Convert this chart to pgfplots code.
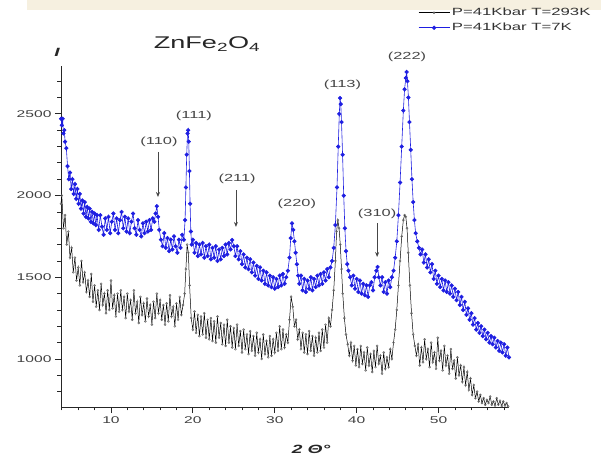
\documentclass[border=0pt]{standalone}
\usepackage{fontspec}
\setmainfont{Liberation Sans}[FakeStretch=1.6]
\usepackage{pgfplots}
\pgfplotsset{compat=1.18}
\usetikzlibrary{arrows.meta}
\definecolor{bluedata}{RGB}{30,30,225}
\definecolor{beige}{RGB}{246,240,224}
\definecolor{annot}{RGB}{70,70,70}
\pgfplotstableread{
x y
3.90 2470
4.00 2430
4.10 2470
4.20 2380
4.30 2400
4.40 2330
4.55 2290
4.70 2180
4.85 2100
5.00 2140
5.15 2040
5.30 2100
5.45 2010
5.60 2070
5.75 1980
5.90 2040
6.05 1950
6.20 2010
6.35 1920
6.50 1970
6.65 1890
6.80 1960
6.95 1870
7.10 1930
7.25 1860
7.40 1920
7.55 1840
7.70 1900
7.85 1830
8.00 1890
8.15 1820
8.30 1880
8.50 1790
8.70 1880
8.90 1810
9.10 1760
9.30 1860
9.50 1790
9.70 1870
9.90 1770
10.10 1840
10.30 1890
10.50 1790
10.70 1860
10.90 1770
11.10 1850
11.30 1900
11.50 1800
11.70 1870
11.90 1780
12.10 1860
12.30 1770
12.50 1840
12.70 1890
12.90 1800
13.10 1760
13.30 1850
13.50 1790
13.70 1750
13.90 1830
14.10 1770
14.30 1840
14.50 1780
14.70 1850
14.90 1790
15.10 1860
15.30 1840
15.45 1890
15.60 1935
15.75 1870
15.90 1790
16.10 1730
16.30 1690
16.50 1770
16.70 1680
16.90 1740
17.10 1660
17.30 1730
17.50 1670
17.70 1750
17.90 1690
18.10 1650
18.30 1730
18.50 1680
18.70 1760
18.90 1730
19.05 1850
19.15 2050
19.25 2250
19.35 2380
19.42 2400
19.50 2330
19.58 2150
19.66 1950
19.75 1780
19.85 1700
20.00 1730
20.20 1650
20.40 1710
20.60 1630
20.80 1700
21.00 1640
21.20 1710
21.40 1620
21.60 1690
21.80 1630
22.00 1700
22.20 1610
22.40 1680
22.60 1620
22.80 1690
23.00 1600
23.20 1670
23.40 1610
23.60 1680
23.80 1630
24.00 1700
24.20 1640
24.40 1710
24.60 1670
24.80 1728
25.00 1690
25.20 1630
25.40 1690
25.60 1610
25.80 1660
26.00 1580
26.20 1640
26.40 1560
26.60 1620
26.80 1550
27.00 1610
27.20 1530
27.40 1590
27.60 1510
27.80 1570
28.00 1490
28.20 1560
28.40 1480
28.60 1540
28.80 1460
29.00 1530
29.20 1450
29.40 1510
29.60 1440
29.80 1500
30.00 1430
30.20 1490
30.40 1440
30.60 1510
30.80 1450
31.00 1520
31.20 1460
31.40 1500
31.60 1540
31.80 1620
31.95 1740
32.10 1830
32.25 1790
32.40 1720
32.55 1650
32.70 1580
32.85 1510
33.00 1460
33.20 1510
33.40 1420
33.60 1490
33.80 1410
34.00 1480
34.20 1430
34.40 1500
34.60 1420
34.80 1490
35.00 1440
35.20 1510
35.40 1450
35.60 1520
35.80 1460
36.00 1530
36.20 1480
36.40 1550
36.60 1500
36.80 1560
37.00 1600
37.20 1680
37.40 1820
37.60 2050
37.75 2300
37.88 2500
37.97 2597
38.06 2560
38.15 2450
38.28 2250
38.42 2000
38.56 1800
38.70 1660
38.85 1580
39.00 1540
39.20 1500
39.40 1450
39.60 1510
39.80 1430
40.00 1490
40.20 1410
40.40 1480
40.60 1400
40.80 1460
41.00 1390
41.20 1450
41.40 1380
41.60 1450
41.80 1470
42.00 1420
42.20 1500
42.40 1540
42.55 1563
42.70 1500
42.90 1450
43.10 1500
43.30 1410
43.50 1470
43.70 1400
43.90 1480
44.10 1440
44.30 1500
44.50 1540
44.70 1620
44.90 1720
45.10 1880
45.30 2080
45.50 2300
45.70 2520
45.85 2650
46.00 2720
46.10 2756
46.20 2700
46.32 2600
46.45 2450
46.60 2280
46.75 2100
46.90 1960
47.05 1850
47.20 1770
47.40 1720
47.60 1680
47.80 1640
48.00 1670
48.20 1590
48.40 1640
48.60 1560
48.80 1610
49.00 1530
49.20 1580
49.40 1490
49.60 1540
49.80 1460
50.00 1510
50.20 1440
50.40 1490
50.60 1420
50.80 1480
51.00 1410
51.20 1470
51.40 1400
51.60 1450
51.80 1380
52.00 1430
52.20 1360
52.40 1410
52.60 1330
52.80 1380
53.00 1300
53.20 1350
53.40 1270
53.60 1310
53.80 1240
54.00 1280
54.20 1210
54.40 1250
54.60 1180
54.80 1220
55.00 1160
55.20 1200
55.40 1140
55.60 1180
55.80 1120
56.00 1160
56.20 1100
56.40 1140
56.60 1090
56.80 1130
57.00 1070
57.20 1110
57.40 1050
57.60 1100
57.80 1040
58.00 1090
58.20 1020
58.40 1070
58.60 1010
}\bluedata
\pgfplotstableread{
x y
3.90 1950
4.00 2000
4.20 1800
4.40 1880
4.60 1700
4.80 1780
5.00 1620
5.20 1680
5.40 1530
5.60 1620
5.80 1480
6.00 1560
6.20 1450
6.40 1600
6.60 1470
6.80 1530
7.00 1410
7.20 1480
7.40 1380
7.60 1520
7.80 1350
8.00 1450
8.20 1320
8.40 1420
8.60 1300
8.80 1460
9.00 1330
9.20 1400
9.40 1280
9.60 1420
9.80 1300
10.00 1480
10.20 1310
10.40 1390
10.60 1260
10.80 1400
11.00 1290
11.20 1420
11.40 1300
11.60 1380
11.80 1250
12.00 1400
12.20 1290
12.40 1360
12.60 1240
12.80 1420
13.00 1280
13.20 1350
13.40 1220
13.60 1380
13.80 1270
14.00 1340
14.20 1230
14.40 1370
14.60 1260
14.80 1330
15.00 1210
15.20 1350
15.40 1250
15.60 1400
15.80 1280
16.00 1360
16.20 1240
16.40 1330
16.60 1210
16.80 1340
17.00 1230
17.20 1390
17.40 1260
17.60 1320
17.80 1200
18.00 1340
18.20 1240
18.40 1380
18.60 1270
18.80 1330
19.00 1400
19.15 1550
19.30 1700
19.45 1650
19.60 1450
19.80 1250
20.00 1180
20.20 1290
20.40 1160
20.60 1270
20.80 1140
21.00 1260
21.20 1150
21.40 1280
21.60 1130
21.80 1240
22.00 1120
22.20 1250
22.40 1110
22.60 1230
22.80 1100
23.00 1260
23.20 1130
23.40 1220
23.60 1090
23.80 1210
24.00 1080
24.20 1240
24.40 1100
24.60 1200
24.80 1070
25.00 1190
25.20 1060
25.40 1210
25.60 1080
25.80 1170
26.00 1040
26.20 1180
26.40 1060
26.60 1150
26.80 1030
27.00 1170
27.20 1050
27.40 1140
27.60 1020
27.80 1160
28.00 1040
28.20 1120
28.40 1000
28.60 1150
28.80 1030
29.00 1110
29.20 1010
29.40 1140
29.60 1020
29.80 1120
30.00 1040
30.20 1160
30.40 1050
30.60 1200
30.80 1060
31.00 1180
31.20 1070
31.40 1150
31.60 1100
31.80 1240
32.00 1380
32.20 1320
32.40 1200
32.60 1240
32.80 1120
33.00 1180
33.20 1060
33.40 1160
33.60 1040
33.80 1150
34.00 1030
34.20 1170
34.40 1050
34.60 1140
34.80 1020
35.00 1130
35.20 1040
35.40 1160
35.60 1050
35.80 1180
36.00 1070
36.20 1210
36.40 1100
36.60 1250
36.80 1200
37.00 1300
37.20 1420
37.40 1600
37.55 1780
37.70 1850
37.85 1800
38.00 1700
38.15 1550
38.30 1400
38.50 1250
38.70 1150
38.90 1090
39.10 1020
39.30 1100
39.50 990
39.70 1080
39.90 960
40.10 1060
40.30 950
40.50 1080
40.70 970
40.90 1040
41.10 930
41.30 1070
41.50 960
41.70 1030
41.90 920
42.10 1050
42.30 950
42.50 1080
42.70 970
42.90 1020
43.10 910
43.30 1040
43.50 940
43.70 1010
43.90 950
44.10 1060
44.30 1000
44.50 1100
44.70 1180
44.90 1300
45.10 1450
45.30 1600
45.50 1750
45.70 1850
45.85 1880
46.00 1870
46.15 1800
46.30 1650
46.50 1450
46.70 1280
46.90 1150
47.10 1080
47.30 1020
47.50 1090
47.70 960
47.90 1070
48.10 980
48.30 1120
48.50 1000
48.70 1060
48.90 950
49.10 1100
49.30 980
49.50 1040
49.70 940
49.90 1130
50.10 990
50.30 1050
50.50 930
50.70 1080
50.90 960
51.10 1020
51.30 910
51.50 1060
51.70 940
51.90 990
52.10 880
52.30 1010
52.50 900
52.70 960
52.90 860
53.10 950
53.30 840
53.50 920
53.70 810
53.90 880
54.10 780
54.30 840
54.50 760
54.70 800
54.90 740
55.10 780
55.30 730
55.50 760
55.70 720
55.90 750
56.10 730
56.30 770
56.50 720
56.70 740
56.90 715
57.10 760
57.30 720
57.50 745
57.70 712
57.90 740
58.10 715
58.30 730
58.50 710
}\blackdata
\begin{document}
\begin{tikzpicture}
\path[use as bounding box] (0,0) rectangle (601bp,456bp);
\fill[beige] (27bp,446bp) rectangle (601bp,456bp);
\begin{axis}[
  at={(61bp,49bp)}, anchor=south west,
  width=448bp, height=341bp, scale only axis,
  xmin=3.9, xmax=58.6, ymin=706, ymax=2793,
  axis x line*=bottom, axis y line*=left,
  axis line style={-, line width=0.9pt, black!85},
  xtick={10,20,30,40,50}, ytick={1000,1500,2000,2500},
  minor xtick={4,6,...,58}, minor ytick={800,900,...,2700},
  tick align=outside, major tick length=6bp, minor tick length=3.5bp,
  every tick/.style={line width=0.8pt, black!85},
  tick label style={font=\fontsize{9.8}{11}\selectfont, text=black!75},
  /pgf/number format/assume math mode=true,
  /pgf/number format/1000 sep={},
  clip=false,
  legend style={at={(axis description cs:0.797,1.176)}, anchor=north west, draw=none, fill=none,
    font=\fontsize{10.5}{12}\selectfont, row sep=2bp, inner sep=0pt, text=black!80},
  legend cell align=left,
  reverse legend,
  legend image code/.code={\draw[mark repeat=2,mark phase=2,#1] plot coordinates {(0bp,0bp) (15.5bp,0bp) (31bp,0bp)};},
]
\addplot[bluedata, line width=0.6pt, mark=*, mark size=1.8pt, mark options={fill=bluedata, draw=bluedata}] table {\bluedata};
\addlegendentry{P=41Kbar T=7K}
\addplot[black, line width=0.5pt, mark=o, mark size=1pt, mark options={draw=black!60}] table {\blackdata};
\addlegendentry{P=41Kbar T=293K}

\begin{scope}[every node/.style={font=\fontsize{10.3}{12}\selectfont, text=annot}]
\node at (axis cs:15.86,2328) {(110)};
\node at (axis cs:20.13,2487) {(111)};
\node at (axis cs:25.4,2101) {(211)};
\node at (axis cs:32.7,1949) {(220)};
\node at (axis cs:38.27,2677) {(113)};
\node at (axis cs:42.5,1887) {(310)};
\node at (axis cs:46.14,2848) {(222)};
\end{scope}
\draw[annot, line width=0.8pt, -{Stealth[length=5bp,width=4bp]}] (axis cs:15.74,2267) -- (axis cs:15.74,1991);
\draw[annot, line width=0.8pt, -{Stealth[length=5bp,width=4bp]}] (axis cs:25.26,2034) -- (axis cs:25.26,1808);
\draw[annot, line width=0.8pt, -{Stealth[length=5bp,width=4bp]}] (axis cs:42.5,1832) -- (axis cs:42.5,1624);
\end{axis}
\node[anchor=base, font=\fontsize{17}{20}\selectfont, text=black!85] at (207bp,407bp) {ZnFe\textsubscript{2}O\textsubscript{4}};
\node[font=\fontsize{12}{14}\selectfont\bfseries\itshape, text=black!85] at (57bp,404bp) {I};
\node[font=\fontsize{12}{14}\selectfont\bfseries\itshape, text=black!85] at (311bp,7bp) {2 Θ°};
\end{tikzpicture}
\end{document}
